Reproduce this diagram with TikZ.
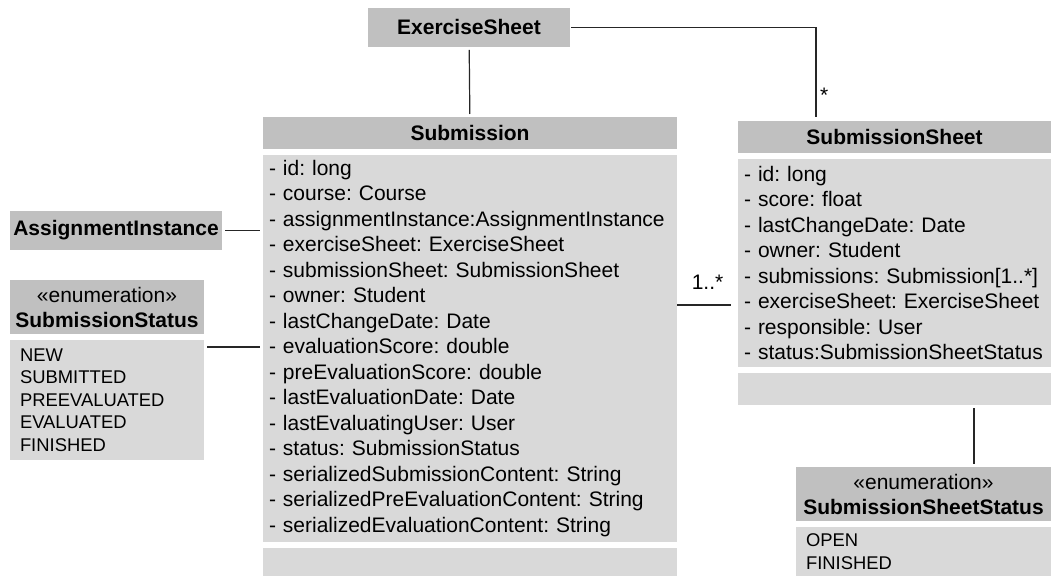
\documentclass[tikz,border=0pt]{standalone}
\usepackage{fontspec}
\setmainfont{Liberation Sans}
\usepackage{tikz}
\usetikzlibrary{positioning}
\definecolor{headgray}{RGB}{192,192,192}
\definecolor{bodygray}{RGB}{217,217,217}
\frenchspacing
\hyphenpenalty=10000

\begin{document}
\begin{tikzpicture}[x=0.5pt, y=-0.5pt, node distance=3pt,
    every node/.style={outer sep=0pt},
    head/.style={fill=headgray, font=\bfseries\fontsize{10.5}{12.5}\selectfont, align=center, inner sep=0pt, minimum height=16pt},
    enumhead/.style={fill=headgray, font=\fontsize{10.5}{12.5}\selectfont, align=center, inner sep=0pt, minimum height=27pt},
    body/.style={fill=bodygray, align=left, inner xsep=3pt, inner ysep=0pt, font=\fontsize{10.5}{12.75}\selectfont},
    lit/.style={fill=bodygray, align=left, inner xsep=5pt, inner ysep=0pt, font=\fontsize{9.2}{11.25}\selectfont},
    link/.style={draw=black!85, line width=0.6pt, shorten <=1.5pt, shorten >=1.5pt},
    mult/.style={font=\fontsize{10.5}{12.5}\selectfont, inner sep=2pt}]
    \useasboundingbox (0,0) rectangle (1052,576);
    \node[head, anchor=north west, minimum width=101pt, minimum height=19.5pt] (es) at (368,8) {ExerciseSheet};
    \node[head, anchor=north west, minimum width=106pt, minimum height=19.5pt] (ai) at (10,211) {AssignmentInstance};
    \node[head, anchor=north west, minimum width=207pt] (subHead) at (263,117) {Submission};
    \node[body, below=of subHead, text width=201pt, minimum height=193.5pt] (subAttr) {- id: long\\- course: Course\\- assignmentInstance:AssignmentInstance\\- exerciseSheet: ExerciseSheet\\- submissionSheet: SubmissionSheet\\- owner: Student\\- lastChangeDate: Date\\- evaluationScore: double\\- preEvaluationScore: double\\- lastEvaluationDate: Date\\- lastEvaluatingUser: User\\- status: SubmissionStatus\\- serializedSubmissionContent: String\\- serializedPreEvaluationContent: String\\- serializedEvaluationContent: String};
    \node[body, below=of subAttr, text width=201pt, minimum height=14pt] (subOps) {};
    \node[enumhead, anchor=north west, minimum width=97pt] (statHead) at (10,280) {«enumeration»\\\textbf{SubmissionStatus}};
    \node[lit, below=of statHead, text width=87pt, minimum height=60pt] (statLit) {NEW\\SUBMITTED\\PREEVALUATED\\EVALUATED\\FINISHED};
    \node[head, anchor=north west, minimum width=156.5pt] (sheetHead) at (738,121) {SubmissionSheet};
    \node[body, below=of sheetHead, text width=150.5pt, minimum height=104pt] (sheetAttr) {- id: long\\- score: float\\- lastChangeDate: Date\\- owner: Student\\- submissions: Submission[1..*]\\- exerciseSheet: ExerciseSheet\\- responsible: User\\- status:SubmissionSheetStatus};
    \node[body, below=of sheetAttr, text width=150.5pt, minimum height=16pt] (sheetOps) {};
    \node[enumhead, anchor=north west, minimum width=127.5pt] (sheetStatHead) at (796,467) {«enumeration»\\\textbf{SubmissionSheetStatus}};
    \node[lit, below=of sheetStatHead, text width=117.5pt, minimum height=24.5pt] (sheetStatLit) {OPEN\\FINISHED};
    \coordinate (sheetTop) at ([xshift=39pt]sheetHead.north west);
    \coordinate (statLink) at ([yshift=-3.5pt]statLit.north east);
    \coordinate (subLink) at ([yshift=-75pt]subAttr.north east);
    \coordinate (sheetLink) at ([xshift=39.75pt]sheetOps.south);
    \draw[link] (es) -- (subHead);
    \draw[link, shorten <=0.5pt, shorten >=2pt] (es.east) -| node[mult, pos=0.86, right] {*} (sheetTop);
    \draw[link] (ai) -- (ai -| subAttr.west);
    \draw[link] (statLink) -- (statLink -| subAttr.west);
    \draw[link, shorten <=0pt, shorten >=3.5pt] (subLink) -- node[mult, above=5.5pt] {1..*} (subLink -| sheetAttr.west);
    \draw[link] (sheetLink) -- (sheetLink |- sheetStatHead.north);
\end{tikzpicture}
\end{document}
